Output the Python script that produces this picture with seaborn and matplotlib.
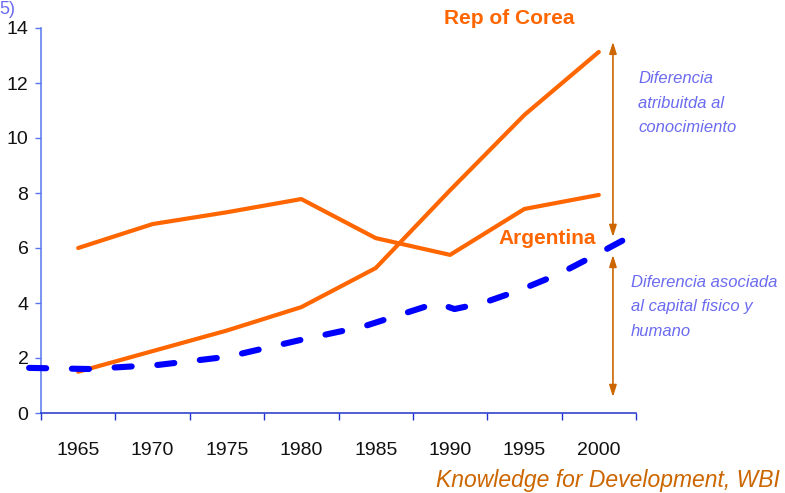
import matplotlib
matplotlib.use("Agg")
import matplotlib.pyplot as plt
import seaborn as sns
import numpy as np

sns.set_style("white")
plt.rcParams['font.family'] = ['Liberation Sans', 'DejaVu Sans']

# ---- data ----
years = [1965, 1970, 1975, 1980, 1985, 1990, 1995, 2000]
tick_labels = ["1965", "1970", "1975", "1980", "1985", "1990", "1995", "2000"]
korea = [1.5, 2.25, 3.0, 3.85, 5.27, 8.1, 10.84, 13.13]
argentina = [6.0, 6.87, 7.3, 7.78, 6.36, 5.75, 7.42, 7.93]
# blue dashed curve (Korea at Argentina's knowledge level)
blue_years = [1961.7, 1965.7, 1970.4, 1975.1, 1979.9, 1984.2, 1986.8, 1989.1,
              1990.3, 1992.2, 1994.6, 1997.3, 1999.8, 2001.8]
blue_values = [1.64, 1.60, 1.75, 2.05, 2.65, 3.15, 3.6, 4.0,
               3.78, 4.0, 4.45, 5.05, 5.75, 6.33]

W, H = 785, 493
fig = plt.figure(figsize=(W / 100, H / 100), dpi=100)
ax = fig.add_axes([41 / W, 80 / H, (636 - 41) / W, (413 - 28) / H])

orange = "#FF6600"
sns.lineplot(x=years, y=korea, ax=ax, color=orange, linewidth=3.0)
sns.lineplot(x=years, y=argentina, ax=ax, color=orange, linewidth=3.0)
sns.lineplot(x=blue_years, y=blue_values, ax=ax, color="#0000FF", linewidth=4.4,
             clip_on=False)
bl = ax.lines[-1]
bl.set_linestyle((0, (2.8, 4.2)))
bl.set_dash_capstyle("round")
bl.set_zorder(5)

ax.set_xlim(1962.5, 2002.5)
ax.set_ylim(0, 14)

# ticks: boundaries as major ticks, labels at category centres (minor)
ax.set_xticks(np.arange(1962.5, 2003, 5))
ax.set_xticklabels([])
ax.set_xticks(years, minor=True)
ax.set_xticklabels(tick_labels, minor=True)
ax.tick_params(axis="x", which="major", direction="out", length=5, width=1,
               color="#2233CC", bottom=True)
ax.tick_params(axis="x", which="minor", length=0, pad=21, labelsize=14,
               labelcolor="#111111", bottom=True)
ax.set_yticks(range(0, 15, 2))
ax.tick_params(axis="y", direction="out", length=4, width=1, color="#5577EE",
               left=True, pad=5, labelsize=14, labelcolor="#111111")

for s in ["top", "right"]:
    ax.spines[s].set_visible(False)
ax.spines["left"].set_color("#5577EE")
ax.spines["bottom"].set_color("#2233CC")
ax.spines["left"].set_linewidth(1.1)
ax.spines["bottom"].set_linewidth(1.1)
ax.set_xlabel("")
ax.set_ylabel("")

# double arrows
arr_c = "#CC6600"
x_arr = 2000.95
astyle = "<|-|>,head_length=0.7,head_width=0.22"
ax.annotate("", xy=(x_arr, 13.5), xytext=(x_arr, 6.4),
            arrowprops=dict(arrowstyle=astyle, color=arr_c, lw=1.2,
                            shrinkA=0, shrinkB=0), annotation_clip=False)
ax.annotate("", xy=(x_arr, 5.75), xytext=(x_arr, 0.58),
            arrowprops=dict(arrowstyle=astyle, color=arr_c, lw=1.2,
                            shrinkA=0, shrinkB=0), annotation_clip=False)

def fx(px):
    return px / W

def fy(py):
    return 1 - py / H

fig.text(fx(509), fy(18), "Rep of Corea", color=orange, fontsize=15,
         fontweight="bold", ha="center", va="center")
fig.text(fx(547), fy(238), "Argentina", color=orange, fontsize=15,
         fontweight="bold", ha="center", va="center")

txt_c = "#6B6BF0"
fig.text(fx(638), fy(103), "Diferencia\natribuitda al\nconocimiento", color=txt_c,
         fontsize=12, style="italic", ha="left", va="center", linespacing=1.8)
fig.text(fx(631), fy(307), "Diferencia asociada\nal capital fisico y\nhumano",
         color=txt_c, fontsize=12, style="italic", ha="left", va="center",
         linespacing=1.8)
fig.text(fx(436), fy(481), "Knowledge for Development, WBI", color="#CC6600",
         fontsize=16.5, style="italic", ha="left", va="center")
fig.text(fx(-1), fy(10), "5)", color=txt_c, fontsize=13, ha="left", va="center")

fig.savefig("out.png", dpi=100)
